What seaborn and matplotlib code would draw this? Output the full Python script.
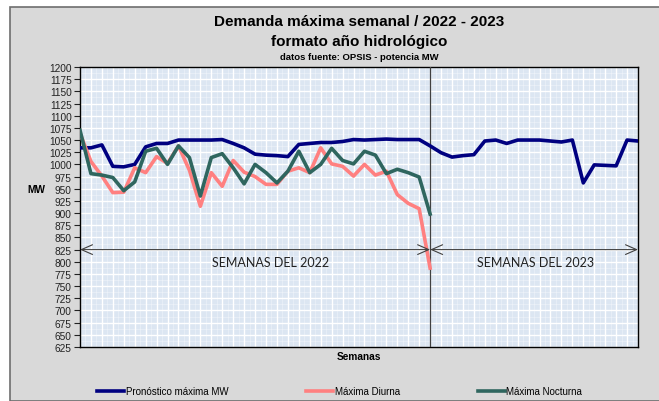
import numpy as np
import pandas as pd
import matplotlib
matplotlib.use("Agg")
import matplotlib.pyplot as plt
from matplotlib.patches import Rectangle
from matplotlib.lines import Line2D
import seaborn as sns

# ---- data ----
series_names = ["Pronóstico máxima MW", "Máxima Diurna", "Máxima Nocturna"]
forecast = [1034, 1034, 1040, 996, 995, 1000, 1036, 1043, 1043, 1050,
            1050, 1050, 1050, 1051, 1043, 1034, 1021, 1019, 1018, 1016,
            1041, 1043, 1045, 1045, 1047, 1051, 1050, 1051, 1052, 1051,
            1051, 1051, 1038,
            1024, 1015, 1018, 1020, 1048, 1050, 1043, 1050, 1050, 1050,
            1048, 1046, 1050, 962, 999, 998, 997, 1050, 1048]
diurna = [1064, 1006, 976, 942, 943, 993, 983, 1016, 1002, 1038,
          988, 914, 983, 955, 1008, 984, 975, 959, 959, 986,
          993, 983, 1034, 1001, 996, 976, 1000, 978, 986, 938,
          920, 909, 787]
nocturna = [1070, 981, 978, 973, 946, 964, 1027, 1033, 1000, 1038,
            1014, 935, 1014, 1022, 993, 960, 1000, 983, 962, 986,
            1027, 983, 1000, 1033, 1008, 1001, 1027, 1019, 981, 990,
            983, 974, 898]
year_labels = ["SEMANAS DEL 2022", "SEMANAS DEL 2023"]
y_ticks = list(range(625, 1201, 25))

colors = ["#000080", "#ff8080", "#2f665f"]

frames = []
for name, vals in zip(series_names, [forecast, diurna, nocturna]):
    frames.append(pd.DataFrame({"semana": np.arange(len(vals)), "MW": vals, "serie": name}))
df = pd.concat(frames, ignore_index=True)

n_weeks = len(forecast)
split = len(diurna) - 1

W, H = 659, 402
fig = plt.figure(figsize=(W / 100, H / 100), dpi=100)
fig.patch.set_facecolor("white")
fig.patches.append(Rectangle((10 / W, 0), 1.0, 1 - 8 / H, transform=fig.transFigure,
                             facecolor="#d9d9d9", edgecolor="#6e6e6e", lw=1.2, zorder=-10))

ax = fig.add_axes([80 / W, 1 - 348 / H, (638 - 80) / W, (348 - 68) / H])
ax.set_facecolor("#dce6f2")

sns.lineplot(data=df, x="semana", y="MW", hue="serie", palette=colors,
             hue_order=series_names, linewidth=2.6, legend=False, ax=ax,
             sort=False, zorder=5)

ax.set_xlim(0, n_weeks - 1)
ax.set_ylim(625, 1200)
ax.set_yticks(y_ticks)
ax.set_yticklabels([str(t) for t in y_ticks], fontsize=7.3, family="Liberation Sans", color="#222222")
ax.set_xticks(np.arange(n_weeks))
ax.set_xticklabels([])
ax.set_xticks(np.arange(0.5, n_weeks - 1, 1.0), minor=True)
ax.set_yticks(np.arange(637.5, 1200, 25), minor=True)
ax.tick_params(axis="x", which="both", length=0)
ax.tick_params(axis="y", which="major", length=4, width=0.8, color="#222222", pad=2)
ax.tick_params(axis="y", which="minor", length=0)
ax.grid(which="major", color="white", lw=1.0)
ax.grid(which="minor", color="white", lw=0.5, alpha=0.45)
ax.set_axisbelow(True)
for s in ax.spines.values():
    s.set_color("black")
    s.set_linewidth(1.0)
ax.set_xlabel("")
ax.set_ylabel("")

# year divider and arrows
ax.axvline(split, color="#404040", lw=0.9, zorder=4)
arrow_kw = dict(arrowstyle="<->,head_length=0.8,head_width=0.35", color="#404040", lw=0.8,
                shrinkA=0, shrinkB=0)
ax.annotate("", xy=(0, 825), xytext=(split, 825), arrowprops=arrow_kw, zorder=6)
ax.annotate("", xy=(split, 825), xytext=(n_weeks - 1, 825), arrowprops=arrow_kw, zorder=6)
ax.text(split / 2 + 1.4, 800, year_labels[0], ha="center", va="center", fontsize=9,
        family="Lato", color="#222222", zorder=6)
ax.text((split + n_weeks - 1) / 2 + 0.1, 800, year_labels[1], ha="center", va="center",
        fontsize=9, family="Lato", color="#222222", zorder=6)

# titles
cx = (80 + 638) / 2 / W
fig.text(cx, 1 - 22 / H, "Demanda máxima semanal / 2022 - 2023", ha="center", va="center",
         fontsize=11, fontweight="bold", family="Liberation Sans", color="black")
fig.text(cx, 1 - 42 / H, "formato año hidrológico", ha="center", va="center",
         fontsize=11, fontweight="bold", family="Liberation Sans", color="black")
fig.text(cx, 1 - 57 / H, "datos fuente: OPSIS - potencia MW", ha="center", va="center",
         fontsize=6.8, fontweight="bold", family="Liberation Sans", color="black")
fig.text(36 / W, 1 - 190 / H, "MW", ha="center", va="center", fontsize=7.3,
         fontweight="bold", family="Liberation Sans", color="black")
fig.text(cx, 1 - 357 / H, "Semanas", ha="center", va="center", fontsize=7.3,
         fontweight="bold", family="Liberation Sans", color="black")

handles = [Line2D([0], [0], color=c, lw=2.6) for c in colors]
fig.legend(handles, series_names, loc="center", bbox_to_anchor=(0.5 + 10 / W, 1 - 392 / H),
           ncol=3, frameon=False, prop={"family": "Liberation Sans", "size": 7},
           handlelength=2.8, handletextpad=0.15, columnspacing=8.0)

fig.savefig("out.png", dpi=100)
